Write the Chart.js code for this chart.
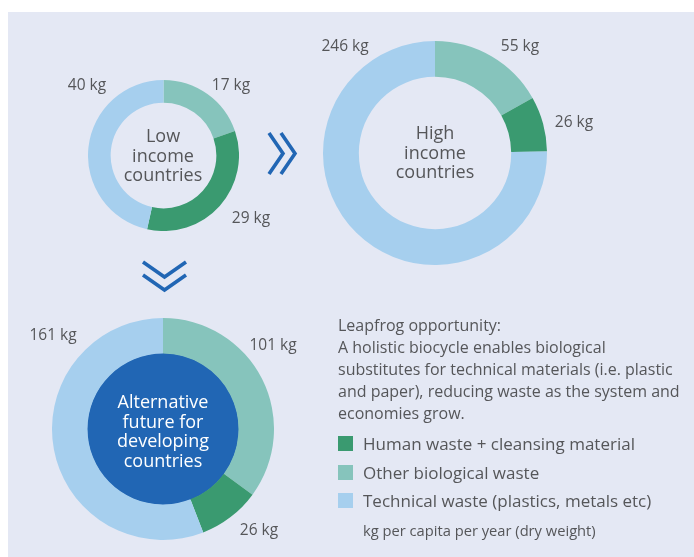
<!DOCTYPE html>
<html>
<head>
<meta charset="utf-8">
<script src="https://cdn.jsdelivr.net/npm/chart.js@4/dist/chart.umd.min.js"></script>
<style>
  html, body { margin:0; padding:0; background:#ffffff; }
  body { width:694px; height:557px; position:relative; overflow:hidden; font-family:"Open Sans", "Noto Sans", sans-serif; color:#555659; }
  #panel { position:absolute; left:8px; top:12px; width:686px; height:545px; background:#e4e8f4; }
  canvas { position:absolute; }
  .lbl { position:absolute; transform:translate(-50%,-50%); font-size:15.5px; white-space:nowrap; }
  .center { position:absolute; transform:translate(-50%,-50%); text-align:center; font-size:18px; line-height:19.5px; white-space:nowrap; }
  #note { position:absolute; left:338px; top:314px; font-size:16px; line-height:22px; white-space:nowrap; }
  .leg { position:absolute; left:338px; font-size:17px; white-space:nowrap; }
  .leg span.sw { position:absolute; left:0; top:50%; width:15px; height:15px; margin-top:-7.5px; }
  .leg span.tx { position:absolute; left:25px; top:50%; transform:translateY(-50%); }
  #unit { position:absolute; left:363px; top:520px; font-size:14.7px; white-space:nowrap; }
  svg { position:absolute; left:0; top:0; }
</style>
</head>
<body>
<div id="panel"></div>

<canvas id="cLow" width="151" height="151" style="left:88px;top:80px"></canvas>
<canvas id="cHigh" width="224" height="224" style="left:323px;top:41px"></canvas>
<canvas id="cAlt" width="222" height="222" style="left:52px;top:318px"></canvas>

<svg width="694" height="557">
  <g fill="none" stroke="#2166b4" stroke-width="3.6" stroke-linejoin="miter">
    <polyline points="269,133 283,153.5 269,174"/>
    <polyline points="281,133 295,153.5 281,174"/>
    <polyline points="143,262 164.5,277 186,262"/>
    <polyline points="143,275 164.5,290 186,275"/>
  </g>
</svg>

<div class="lbl" style="left:87px;top:84px">40 kg</div>
<div class="lbl" style="left:231px;top:84px">17 kg</div>
<div class="lbl" style="left:251px;top:217px">29 kg</div>
<div class="lbl" style="left:345px;top:45px">246 kg</div>
<div class="lbl" style="left:520px;top:45px">55 kg</div>
<div class="lbl" style="left:574px;top:121px">26 kg</div>
<div class="lbl" style="left:53px;top:334px">161 kg</div>
<div class="lbl" style="left:273px;top:344px">101 kg</div>
<div class="lbl" style="left:259px;top:529px">26 kg</div>

<div class="center" style="left:163px;top:155px">Low<br>income<br>countries</div>
<div class="center" style="left:435px;top:152px">High<br>income<br>countries</div>
<div class="center" style="left:163px;top:431px;color:#ffffff;">Alternative<br>future for<br>developing<br>countries</div>

<div id="note">Leapfrog opportunity:<br>A holistic biocycle enables biological<br>substitutes for technical materials (i.e. plastic<br>and paper), reducing waste as the system and<br>economies grow.</div>

<div class="leg" style="top:443px"><span class="sw" style="background:#3a9a70"></span><span class="tx">Human waste + cleansing material</span></div>
<div class="leg" style="top:472px"><span class="sw" style="background:#86c4bc"></span><span class="tx">Other biological waste</span></div>
<div class="leg" style="top:500px"><span class="sw" style="background:#a6cfee"></span><span class="tx">Technical waste (plastics, metals etc)</span></div>
<div id="unit">kg per capita per year (dry weight)</div>

<script>
// Categories (in drawing order, clockwise from 12 o'clock)
const categories = ["Other biological waste", "Human waste + cleansing material", "Technical waste (plastics, metals etc)"];
const colors = ["#86c4bc", "#3a9a70", "#a6cfee"];
// kg per capita per year (dry weight)
const lowIncome = [17, 29, 40];
const highIncome = [55, 26, 246];
const altFuture = [101, 26, 161];

const innerFill = {
  id: 'innerFill',
  beforeDatasetsDraw(chart, args, opts) {
    if (!opts.color) return;
    const arc = chart.getDatasetMeta(0).data[0];
    if (!arc) return;
    const ctx = chart.ctx;
    ctx.save();
    ctx.beginPath();
    ctx.arc(arc.x, arc.y, arc.innerRadius + 0.5, 0, Math.PI * 2);
    ctx.fillStyle = opts.color;
    ctx.fill();
    ctx.restore();
  }
};

function makeDoughnut(id, data, cutout, fillColor) {
  return new Chart(document.getElementById(id), {
    type: 'doughnut',
    data: {
      labels: categories,
      datasets: [{ data: data, backgroundColor: colors, borderWidth: 0, hoverOffset: 0 }]
    },
    options: {
      responsive: false,
      devicePixelRatio: 1,
      animation: false,
      cutout: cutout,
      layout: { padding: 0 },
      events: [],
      plugins: {
        legend: { display: false },
        tooltip: { enabled: false },
        innerFill: { color: fillColor }
      }
    },
    plugins: [innerFill]
  });
}

makeDoughnut('cLow', lowIncome, '70%', null);
makeDoughnut('cHigh', highIncome, '68%', null);
makeDoughnut('cAlt', altFuture, '68%', '#2166b4');
</script>
</body>
</html>
